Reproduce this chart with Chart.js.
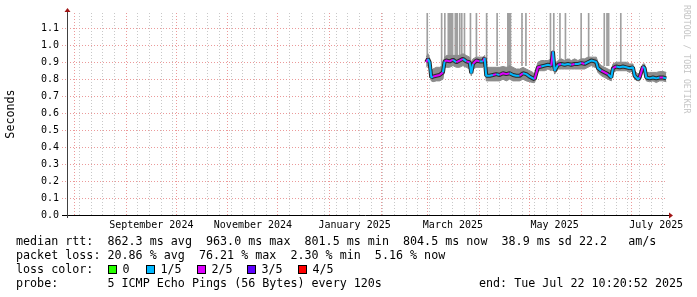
<!DOCTYPE html>
<html>
<head>
<meta charset="utf-8">
<script src="https://cdn.jsdelivr.net/npm/chart.js@4.4.0/dist/chart.umd.min.js"></script>
<style>
  html, body { margin: 0; padding: 0; background: #fff; }
  #wrap { position: relative; width: 697px; height: 297px; overflow: hidden; font-family: "DejaVu Sans Mono", monospace; }
  #graph { position: absolute; left: 0; top: 0; }
  .txt { position: absolute; font-size: 11.7px; line-height: 14px; white-space: pre; color: #000; }
  .box { position: absolute; width: 7px; height: 7px; border: 1px solid #000; }
  #credit { position: absolute; left: 691px; top: 5px; font-size: 8.2px; line-height: 9px; color: #c4c4c4;
            white-space: pre; transform: rotate(90deg); transform-origin: 0 0; }
</style>
</head>
<body>
<div id="wrap">
  <canvas id="graph" width="697" height="297"></canvas>
  <div id="credit">RRDTOOL / TOBI OETIKER</div>
  <div class="txt" style="left:16px; top:234px">median rtt:  862.3 ms avg  963.0 ms max  801.5 ms min  804.5 ms now  38.9 ms sd 22.2   am/s</div>
  <div class="txt" style="left:16px; top:248px">packet loss: 20.86 % avg  76.21 % max  2.30 % min  5.16 % now</div>
  <div class="txt" style="left:16px; top:262px">loss color:</div>
  <div class="txt" style="left:16px; top:276px">probe:       5 ICMP Echo Pings (56 Bytes) every 120s</div>
  <div class="txt" style="left:479px; top:276px">end: Tue Jul 22 10:20:52 2025</div>
  <div id="lossLegend"></div>
</div>
<script>
// ---- data ----
const sampleDates = [
  '2025-02-28','2025-03-01','2025-03-02','2025-03-03','2025-03-04','2025-03-06','2025-03-08','2025-03-10',
  '2025-03-11','2025-03-12','2025-03-14','2025-03-16','2025-03-18','2025-03-20','2025-03-22','2025-03-24',
  '2025-03-26','2025-03-27','2025-03-28','2025-03-30','2025-04-01','2025-04-03','2025-04-04','2025-04-05',
  '2025-04-07','2025-04-09','2025-04-11','2025-04-13','2025-04-15','2025-04-17','2025-04-19','2025-04-21',
  '2025-04-23','2025-04-25','2025-04-27','2025-04-29','2025-05-01','2025-05-03','2025-05-04','2025-05-06',
  '2025-05-08','2025-05-10','2025-05-12','2025-05-14','2025-05-15','2025-05-16','2025-05-18','2025-05-20',
  '2025-05-22','2025-05-24','2025-05-26','2025-05-28','2025-05-30','2025-06-01','2025-06-03','2025-06-05',
  '2025-06-07','2025-06-09','2025-06-10','2025-06-11','2025-06-13','2025-06-15','2025-06-17','2025-06-19',
  '2025-06-20','2025-06-22','2025-06-24','2025-06-26','2025-06-28','2025-06-30','2025-07-02','2025-07-03',
  '2025-07-05','2025-07-06','2025-07-08','2025-07-09','2025-07-10','2025-07-12','2025-07-14','2025-07-16',
  '2025-07-18','2025-07-20','2025-07-22'
];
// median rtt (seconds)
const medianRtt = [
  0.900,0.920,0.900,0.810,0.815,0.820,0.825,0.840,
  0.905,0.910,0.905,0.915,0.900,0.910,0.920,0.905,
  0.900,0.835,0.890,0.910,0.905,0.905,0.925,0.820,
  0.820,0.825,0.830,0.825,0.835,0.830,0.835,0.825,
  0.820,0.820,0.835,0.830,0.815,0.805,0.800,0.870,
  0.875,0.880,0.885,0.880,0.963,0.850,0.885,0.890,
  0.885,0.890,0.885,0.890,0.890,0.895,0.890,0.900,
  0.910,0.905,0.900,0.865,0.850,0.840,0.830,0.810,
  0.865,0.875,0.870,0.875,0.870,0.865,0.870,0.820,
  0.800,0.810,0.875,0.865,0.810,0.805,0.810,0.805,
  0.810,0.810,0.805
];
// smoke band: lowest and highest ping
const smokeLow = [
  0.870,0.880,0.860,0.790,0.785,0.790,0.790,0.800,
  0.870,0.870,0.870,0.880,0.870,0.870,0.880,0.870,
  0.860,0.820,0.860,0.870,0.870,0.870,0.880,0.790,
  0.790,0.790,0.790,0.790,0.800,0.790,0.800,0.790,
  0.790,0.790,0.800,0.790,0.785,0.780,0.780,0.850,
  0.850,0.850,0.860,0.850,0.900,0.830,0.860,0.860,
  0.860,0.860,0.860,0.860,0.860,0.860,0.860,0.870,
  0.880,0.870,0.870,0.840,0.820,0.810,0.800,0.790,
  0.840,0.850,0.850,0.850,0.850,0.840,0.850,0.800,
  0.790,0.790,0.850,0.840,0.790,0.785,0.790,0.780,
  0.790,0.790,0.785
];
const smokeHigh = [
  0.930,0.950,0.925,0.850,0.860,0.870,0.870,0.880,
  0.930,0.940,0.940,0.940,0.940,0.940,0.950,0.940,
  0.930,0.900,0.920,0.930,0.930,0.930,0.940,0.870,
  0.870,0.870,0.870,0.870,0.875,0.870,0.880,0.870,
  0.860,0.860,0.870,0.860,0.850,0.840,0.830,0.900,
  0.910,0.910,0.910,0.920,0.970,0.890,0.910,0.920,
  0.910,0.920,0.910,0.920,0.910,0.920,0.920,0.930,
  0.930,0.930,0.930,0.900,0.880,0.870,0.860,0.850,
  0.890,0.900,0.900,0.900,0.900,0.890,0.890,0.850,
  0.830,0.840,0.890,0.890,0.840,0.840,0.840,0.840,
  0.845,0.845,0.840
];
// lost pings out of 5
const lossCount = [
  1,2,1,1,1,2,2,2, 1,2,2,2,1,2,2,1, 2,1,1,2,2,1,2,1,
  1,1,2,1,2,2,2,1, 1,1,2,1,1,1,1,2, 2,1,1,1,2,1,1,2,
  1,1,1,2,1,1,2,1, 1,1,1,1,1,2,2,1, 1,2,1,1,1,1,1,1,
  1,1,2,1,1,1,1,1, 1,2,1
];
// single pings far above the scale
const spikeTimes = [
  '2025-02-28T14:00','2025-03-09T05:00','2025-03-11T03:00','2025-03-13T05:00','2025-03-14T00:00',
  '2025-03-14T14:00','2025-03-15T05:00','2025-03-15T19:00','2025-03-17T10:00','2025-03-18T00:00',
  '2025-03-18T14:00','2025-03-20T02:00','2025-03-21T07:00','2025-03-22T22:00','2025-03-26T12:00',
  '2025-03-30T02:00','2025-04-05T05:00','2025-04-11T12:00','2025-04-17T22:00','2025-04-18T07:00',
  '2025-04-18T22:00','2025-04-19T12:00','2025-04-26T10:00','2025-04-28T19:00','2025-05-13T12:00',
  '2025-05-15T12:00','2025-05-19T05:00','2025-05-22T12:00','2025-05-31T22:00','2025-06-05T10:00',
  '2025-06-14T19:00','2025-06-16T10:00','2025-06-16T22:00','2025-06-17T10:00','2025-06-24T17:00'
];
const spikeFrom = 0.88;
const spikeTo = 1.19;

const lossLabels = ['0', '1/5', '2/5', '3/5', '4/5'];
const lossColors = ['#26ff00', '#00b8ff', '#dd00ff', '#5e00ff', '#ff0000'];

const monthLabels = ['September 2024', 'November 2024', 'January 2025', 'March 2025', 'May 2025', 'July 2025'];
const monthLabelDates = ['2024-09-16', '2024-11-16', '2025-01-16', '2025-03-16', '2025-05-16', '2025-07-16'];
const yTicks = [0, 0.1, 0.2, 0.3, 0.4, 0.5, 0.6, 0.7, 0.8, 0.9, 1.0, 1.1];

const DAY = 86400000;
const END_TIME = Date.UTC(2025, 6, 22, 10, 20, 52);
const START_TIME = END_TIME - 360 * DAY;
const Y_MAX = 1.19;

const FONT = 'DejaVu Sans Mono';
const GRID_COLOR = '#c8c8c8';
const MGRID_COLOR = '#eb9a9a';

// ---- helpers ----
function ts(s) {
  return Date.parse(s.length > 10 ? s + ':00Z' : s + 'T00:00:00Z');
}

// weekly (Sunday) and monthly grid positions
function weekTicks() {
  const out = [];
  let t = Date.UTC(2024, 6, 28);
  while (t <= END_TIME) { out.push({ value: t }); t += 7 * DAY; }
  return out;
}
function monthTicks() {
  const out = [];
  for (let m = 7; m <= 18; m++) {
    const t = Date.UTC(2024 + Math.floor(m / 12), m % 12, 1);
    if (t > START_TIME && t < END_TIME) out.push({ value: t });
  }
  return out;
}

// loss color legend boxes
const boxLefts = [108, 146, 197, 247, 298];
const legendEl = document.getElementById('lossLegend');
lossLabels.forEach(function(label, i) {
  const b = document.createElement('div');
  b.className = 'box';
  b.style.left = boxLefts[i] + 'px';
  b.style.top = '265px';
  b.style.background = lossColors[i];
  legendEl.appendChild(b);
  const t = document.createElement('div');
  t.className = 'txt';
  t.style.left = (boxLefts[i] + 14.5) + 'px';
  t.style.top = '262px';
  t.textContent = label;
  legendEl.appendChild(t);
});

// axis lines + arrows like rrdtool
const axisArrows = {
  id: 'axisArrows',
  afterDraw(chart) {
    const { ctx, chartArea } = chart;
    const { left, right, top, bottom } = chartArea;
    ctx.save();
    ctx.lineWidth = 1;
    ctx.strokeStyle = '#000';
    ctx.beginPath();
    ctx.moveTo(left - 5, bottom + 0.5);
    ctx.lineTo(right + 2, bottom + 0.5);
    ctx.stroke();
    ctx.strokeStyle = '#404040';
    ctx.beginPath();
    ctx.moveTo(left + 0.5, bottom + 3);
    ctx.lineTo(left + 0.5, top - 1);
    ctx.stroke();
    ctx.fillStyle = '#a01414';
    ctx.beginPath();
    ctx.moveTo(left - 2.5, top - 1);
    ctx.lineTo(left + 3.5, top - 1);
    ctx.lineTo(left + 0.5, top - 5);
    ctx.closePath();
    ctx.fill();
    ctx.beginPath();
    ctx.moveTo(right + 2, bottom - 2.5);
    ctx.lineTo(right + 2, bottom + 3.5);
    ctx.lineTo(right + 6, bottom + 0.5);
    ctx.closePath();
    ctx.fill();
    ctx.restore();
  }
};

const points = arr => sampleDates.map((d, i) => ({ x: ts(d), y: arr[i] }));

new Chart(document.getElementById('graph'), {
  data: {
    datasets: [
      {
        type: 'line',
        label: 'median',
        data: points(medianRtt),
        borderWidth: 2,
        borderJoinStyle: 'bevel',
        pointRadius: 0,
        tension: 0,
        segment: {
          borderColor: c => lossColors[lossCount[c.p1DataIndex]]
        },
        order: 0
      },
      {
        type: 'line',
        label: 'median core',
        data: points(medianRtt),
        borderColor: '#2a2a2a',
        borderWidth: 4,
        borderJoinStyle: 'bevel',
        pointRadius: 0,
        tension: 0,
        order: 1
      },
      {
        type: 'line',
        label: 'smoke high',
        data: points(smokeHigh),
        borderColor: '#8c8c8c',
        borderWidth: 1,
        borderJoinStyle: 'bevel',
        backgroundColor: '#8c8c8c',
        fill: '+1',
        pointRadius: 0,
        tension: 0,
        order: 2
      },
      {
        type: 'line',
        label: 'smoke low',
        data: points(smokeLow),
        borderColor: '#8c8c8c',
        borderWidth: 1,
        borderJoinStyle: 'bevel',
        pointRadius: 0,
        tension: 0,
        order: 3
      },
      {
        type: 'bar',
        label: 'spikes',
        data: spikeTimes.map(s => ({ x: ts(s), y: [spikeFrom, spikeTo] })),
        backgroundColor: '#a0a0a0',
        borderWidth: 0,
        barThickness: 1,
        order: 4
      }
    ]
  },
  options: {
    responsive: false,
    animation: false,
    events: [],
    devicePixelRatio: 1,
    layout: { padding: { left: 0, top: 13, right: 30, bottom: 62 } },
    plugins: {
      legend: { display: false },
      tooltip: { enabled: false }
    },
    scales: {
      x: {
        type: 'linear',
        position: 'bottom',
        min: START_TIME,
        max: END_TIME,
        offset: false,
        afterBuildTicks: s => { s.ticks = monthLabelDates.map(d => ({ value: ts(d) })); },
        afterFit: s => { s.height = 20; },
        ticks: {
          autoSkip: false,
          maxRotation: 0,
          minRotation: 0,
          padding: 4,
          color: '#000',
          font: { family: FONT, size: 10 },
          callback: (v, i) => monthLabels[i]
        },
        grid: { display: false, drawTicks: false, offset: false },
        border: { display: false }
      },
      xWeek: {
        type: 'linear',
        axis: 'x',
        position: 'bottom',
        min: START_TIME,
        max: END_TIME,
        offset: false,
        afterBuildTicks: s => { s.ticks = weekTicks(); },
        afterFit: s => { s.height = 0; },
        ticks: { display: false, autoSkip: false },
        grid: { color: GRID_COLOR, drawTicks: false, offset: false },
        border: { display: false, dash: [1, 2] }
      },
      xMonth: {
        type: 'linear',
        axis: 'x',
        position: 'bottom',
        min: START_TIME,
        max: END_TIME,
        offset: false,
        afterBuildTicks: s => { s.ticks = monthTicks(); },
        afterFit: s => { s.height = 0; },
        ticks: { display: false, autoSkip: false },
        grid: { color: MGRID_COLOR, drawTicks: false, offset: false },
        border: { display: false, dash: [1, 2] }
      },
      y: {
        type: 'linear',
        min: 0,
        max: Y_MAX,
        afterBuildTicks: s => { s.ticks = yTicks.map(v => ({ value: v })); },
        afterFit: s => { s.width = 67; },
        ticks: {
          padding: 3,
          color: '#000',
          font: { family: FONT, size: 10 },
          callback: v => v.toFixed(1)
        },
        grid: { color: MGRID_COLOR, drawTicks: true, tickLength: 5, tickBorderDash: [1, 2] },
        border: { display: false, dash: [1, 2] },
        title: {
          display: true,
          text: 'Seconds',
          color: '#000',
          font: { family: FONT, size: 11.7 },
          padding: { top: 4, bottom: 0 }
        }
      }
    }
  },
  plugins: [axisArrows]
});
</script>
</body>
</html>
